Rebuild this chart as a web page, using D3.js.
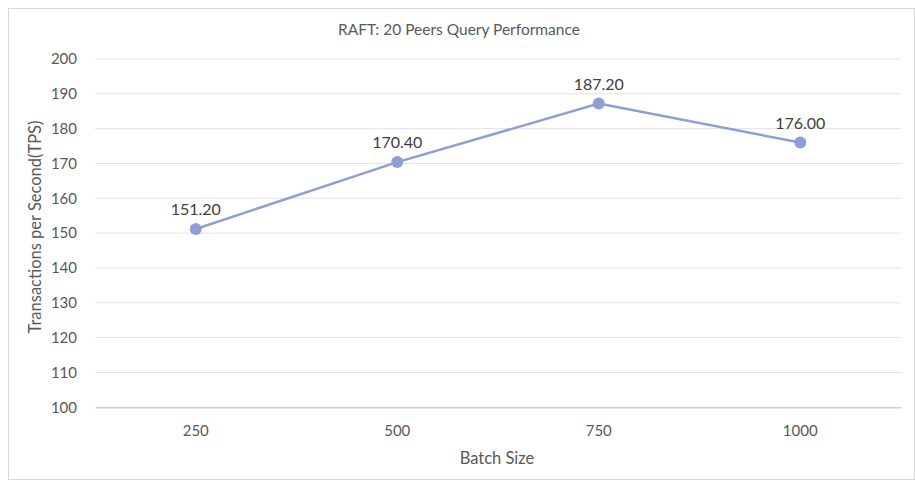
<!DOCTYPE html>
<html>
<head>
<meta charset="utf-8">
<script src="https://cdn.jsdelivr.net/npm/d3@7"></script>
<style>
  body { margin: 0; background: #fff; }
  text { font-family: Lato, "Open Sans", sans-serif; }
</style>
</head>
<body>
<div id="chart"></div>
<script>
const batchSizes = ['250', '500', '750', '1000'];
const tps = [151.2, 170.4, 187.2, 176.0];
const yTicks = [100, 110, 120, 130, 140, 150, 160, 170, 180, 190, 200];

const W = 915, H = 483;
const margin = {top: 59, right: 14, bottom: 76, left: 95};
const width = 901 - margin.left;
const height = 407.3 - margin.top;

const svg = d3.select('#chart')
  .append('svg')
  .attr('width', W)
  .attr('height', H);

// outer frame
svg.append('rect')
  .attr('x', 8.5).attr('y', 8.5)
  .attr('width', 906).attr('height', 471)
  .attr('fill', '#fff')
  .attr('stroke', '#d9d9d9');

svg.append('text')
  .attr('x', 459).attr('y', 35)
  .attr('text-anchor', 'middle')
  .attr('font-size', 15.5)
  .attr('fill', '#595959')
  .text('RAFT: 20 Peers Query Performance');

const g = svg.append('g')
  .attr('transform', `translate(${margin.left}, ${margin.top})`);

const x = d3.scaleBand()
  .domain(batchSizes)
  .range([0, width]);

const y = d3.scaleLinear()
  .domain([100, 200])
  .range([height, 0]);

// grid lines
g.append('g')
  .selectAll('line')
  .data(yTicks.slice(1))
  .enter().append('line')
    .attr('x1', 0).attr('x2', width)
    .attr('y1', d => y(d)).attr('y2', d => y(d))
    .attr('stroke', '#e3e3e3')
    .attr('stroke-width', 1);

// y axis labels
const yAxis = d3.axisLeft(y).tickValues(yTicks).tickSize(0).tickPadding(18);
g.append('g')
  .call(yAxis)
  .call(s => s.select('.domain').remove())
  .selectAll('text')
    .attr('font-size', 15)
    .attr('fill', '#595959')
    .style('font-family', 'Lato, "Open Sans", sans-serif');

// x axis
const xAxis = d3.axisBottom(x).tickSize(0).tickPadding(18);
g.append('g')
  .attr('transform', `translate(0, ${height})`)
  .call(xAxis)
  .call(s => s.select('.domain').attr('stroke', '#cfcfcf').attr('stroke-width', 1.5))
  .selectAll('text')
    .attr('font-size', 15)
    .attr('fill', '#595959')
    .style('font-family', 'Lato, "Open Sans", sans-serif');

// axis titles
svg.append('text')
  .attr('x', 497).attr('y', 464)
  .attr('text-anchor', 'middle')
  .attr('font-size', 16.5)
  .attr('fill', '#595959')
  .text('Batch Size');

svg.append('text')
  .attr('transform', 'translate(41, 227) rotate(-90)')
  .attr('text-anchor', 'middle')
  .attr('font-size', 16.5)
  .attr('fill', '#595959')
  .text('Transactions per Second(TPS)');

const points = batchSizes.map((b, i) => ({b, v: tps[i]}));
const cx = d => x(d.b) + x.bandwidth() / 2;

g.append('path')
  .datum(points)
  .attr('fill', 'none')
  .attr('stroke', '#8e9fd5')
  .attr('stroke-width', 2.5)
  .attr('d', d3.line().x(cx).y(d => y(d.v)));

g.selectAll('circle')
  .data(points)
  .enter().append('circle')
    .attr('cx', cx)
    .attr('cy', d => y(d.v))
    .attr('r', 6)
    .attr('fill', '#8e9fd5');

g.selectAll('.label')
  .data(points)
  .enter().append('text')
    .attr('class', 'label')
    .attr('x', cx)
    .attr('y', d => y(d.v) - 14)
    .attr('text-anchor', 'middle')
    .attr('font-size', 16)
    .attr('fill', '#404040')
    .text(d => d.v.toFixed(2));
</script>
</body>
</html>
